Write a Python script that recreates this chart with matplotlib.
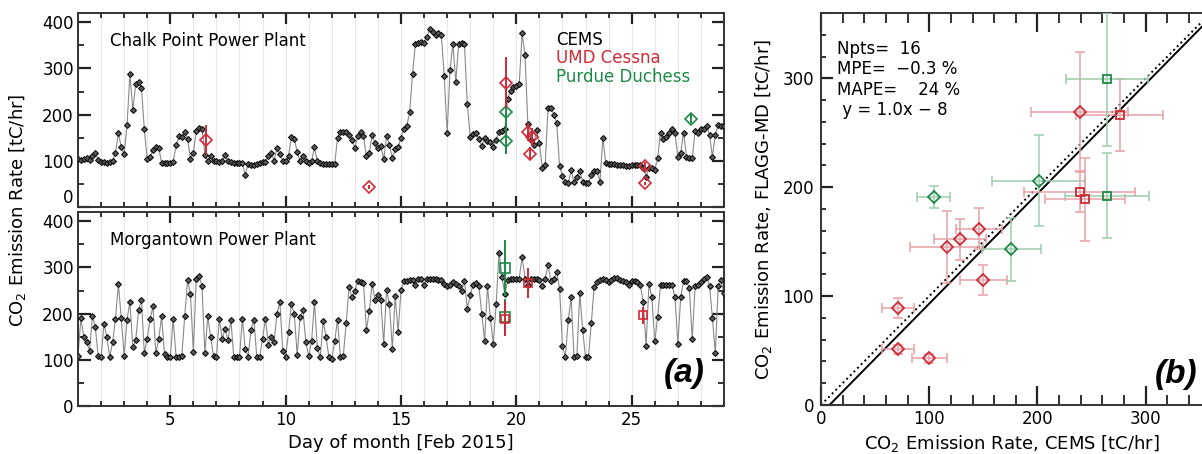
import numpy as np
import matplotlib.pyplot as plt
from matplotlib.ticker import MultipleLocator

# CEMS emission rates [tC/hr], 3-hourly samples (Feb 1 00h .. Feb 29 00h)
chalk_cems = [
    103, 102, 104, 106, 101, 110, 118, 101,   # day 1
    98, 97, 96, 97, 100, 118, 160, 130,
    115, 177, 288, 210, 266, 271, 258, 168,
    103, 108, 124, 130, 128, 96, 96, 96,
    96, 97, 134, 153, 152, 162, 147, 105,     # day 5
    118, 165, 172, 170, 113, 100, 110, 99,
    99, 98, 100, 113, 100, 97, 96, 96,
    96, 95, 69, 94, 90, 92, 94, 95,
    97, 98, 110, 117, 100, 128, 115, 100,
    99, 110, 152, 148, 120, 99, 110, 99,      # day 10
    96, 100, 129, 99, 95, 94, 93, 93,
    93, 93, 150, 163, 163, 163, 155, 146,
    128, 153, 162, 153, 110, 118, 155, 139,
    128, 132, 103, 153, 135, 106, 125, 130,
    150, 170, 175, 205, 288, 354, 356, 357,   # day 15
    356, 369, 385, 378, 372, 376, 372, 283,
    160, 296, 354, 270, 354, 355, 354, 223,
    152, 158, 160, 148, 132, 150, 142, 140,
    131, 146, 162, 164, 168, 234, 252, 259,
    261, 266, 376, 330, 179, 145, 135, 166,   # day 20
    139, 85, 91, 215, 215, 200, 182, 88,
    68, 55, 51, 80, 55, 66, 77, 55,
    51, 51, 69, 77, 77, 55, 150, 95,
    94, 93, 93, 92, 91, 90, 88, 88,
    90, 90, 91, 91, 85, 66, 84, 84,           # day 25
    80, 106, 161, 148, 152, 160, 168, 160,
    109, 117, 161, 109, 106, 106, 165, 160,
    168, 170, 175, 157, 108, 157, 178, 175,
    175,
]

morg_cems = [
    109, 190, 150, 138, 120, 195, 170, 109,   # day 1
    106, 178, 149, 106, 138, 189, 264, 190,
    109, 187, 225, 128, 142, 207, 230, 114,
    146, 188, 216, 114, 146, 194, 112, 106,
    106, 189, 107, 106, 109, 194, 272, 243,   # day 5
    117, 276, 281, 259, 114, 194, 149, 108,
    106, 189, 146, 167, 142, 187, 107, 106,
    106, 189, 124, 107, 165, 187, 106, 106,
    146, 189, 133, 149, 138, 200, 225, 120,
    106, 160, 220, 200, 110, 193, 207, 138,   # day 10
    108, 140, 225, 125, 106, 185, 150, 106,
    102, 140, 187, 106, 109, 180, 258, 235,
    250, 270, 268, 267, 164, 205, 265, 229,
    240, 229, 135, 251, 220, 124, 238, 160,
    251, 270, 271, 272, 272, 262, 276, 276,   # day 15
    262, 276, 274, 274, 275, 273, 272, 265,
    259, 262, 269, 264, 260, 250, 271, 211,
    240, 262, 266, 260, 200, 141, 260, 190,
    135, 220, 332, 280, 243, 272, 276, 276,
    276, 276, 323, 276, 262, 276, 276, 274,   # day 20
    273, 260, 276, 305, 270, 276, 290, 254,
    130, 106, 186, 235, 106, 108, 245, 164,
    106, 106, 180, 258, 268, 272, 276, 272,
    268, 272, 278, 278, 273, 270, 269, 262,
    270, 271, 269, 262, 225, 131, 265, 235,   # day 25
    140, 193, 262, 262, 262, 262, 262, 236,
    135, 235, 271, 271, 255, 145, 260, 262,
    269, 274, 280, 260, 190, 115, 260, 272,
    245,
]

# aircraft estimates (FLAGG-MD) and matching CEMS values
# Chalk Point (diamonds)
cp_red_day = [6.53, 13.6, 19.56, 20.52, 20.6, 20.7, 25.56, 25.56]
cp_red_obs = [145, 43, 269, 162, 115, 152, 89, 51]
cp_red_err = [33, 4, 55, 19, 14, 19, 9, 4]
cp_red_cems = [116, 100, 239, 146, 150, 128, 71, 71]
cp_red_cems_err = [34, 16, 45, 21, 22, 24, 15, 15]

cp_grn_day = [19.56, 19.56, 27.58]
cp_grn_obs = [206, 143, 191]
cp_grn_err = [42, 29, 10]
cp_grn_cems = [201, 176, 104]
cp_grn_cems_err = [43, 27, 15]

# Morgantown (squares)
mg_red_day = [19.5, 20.52, 25.5]
mg_red_obs = [189, 266, 196]
mg_red_err = [38, 33, 19]
mg_red_cems = [244, 276, 239]
mg_red_cems_err = [37, 40, 51]

mg_grn_day = [19.53, 19.53]
mg_grn_obs = [299, 192]
mg_grn_err = [61, 39]
mg_grn_cems = [264, 264]
mg_grn_cems_err = [38, 39]

stats_lines = ['Npts=  16', 'MPE=  \u22120.3 %', 'MAPE=    24 %', ' y = 1.0x \u2212 8']
fit_slope = 1.01
fit_icpt = -8

red = '#cf2a37'
green = '#1d8a48'
red_light = '#e8a0a5'
green_light = '#9ccbac'

t = 1 + np.arange(len(chalk_cems)) / 8.0

fig = plt.figure(figsize=(12.02, 4.54), dpi=100)
ax1 = fig.add_axes([0.0649, 0.544, 0.5374, 0.4273])
ax2 = fig.add_axes([0.0649, 0.1057, 0.5374, 0.4273])
ax3 = fig.add_axes([0.683, 0.108, 0.317, 0.8634])


def style_a(ax):
    ax.set_xlim(1, 29)
    ax.set_ylim(0, 420)
    ax.xaxis.set_major_locator(MultipleLocator(5))
    ax.xaxis.set_minor_locator(MultipleLocator(1))
    ax.set_yticks([0, 100, 200, 300, 400])
    ax.yaxis.set_minor_locator(MultipleLocator(50))
    ax.tick_params(which='both', direction='in', top=True, right=True, labelsize=12, color='#222222')
    ax.tick_params(axis='x', which='major', length=8, width=1.6)
    ax.tick_params(axis='x', which='minor', length=3.8, width=1.3)
    ax.tick_params(axis='y', which='major', length=9, width=1.6, pad=3)
    ax.tick_params(axis='y', which='minor', length=4.5, width=1.3)
    for s in ax.spines.values():
        s.set_linewidth(1.4)
        s.set_color('#333333')
    for d in range(2, 29):
        ax.axvline(d, color='#e8e8e8', lw=0.8, zorder=0)


def plot_cems(ax, vals):
    ax.plot(t, vals, '-', color='#8a8a8a', lw=0.8, zorder=2)
    ax.plot(t, vals, 'D', ms=3.0, mfc='#5a5a5a', mec='#111111', mew=0.8, ls='none', zorder=3)


style_a(ax1)
style_a(ax2)
ax1.tick_params(labelbottom=False)
# lift the "0" of the upper panel so it clears the "400" below
ax1.yaxis.get_major_ticks()[0].label1.set_verticalalignment('bottom')

plot_cems(ax1, chalk_cems)
plot_cems(ax2, morg_cems)

ax1.errorbar(cp_red_day, cp_red_obs, yerr=cp_red_err, fmt='D', ms=6.4, mfc='none', mec=red,
             mew=1.2, ecolor=red, elinewidth=1.4, capsize=0, zorder=5)
ax1.errorbar(cp_grn_day, cp_grn_obs, yerr=cp_grn_err, fmt='D', ms=6.4, mfc='none', mec=green,
             mew=1.2, ecolor=green, elinewidth=1.4, capsize=0, zorder=4)
ax2.errorbar(mg_grn_day, mg_grn_obs, yerr=mg_grn_err, fmt='s', ms=7.2, mfc='none', mec=green,
             mew=1.2, ecolor=green, elinewidth=1.4, capsize=0, zorder=4)
ax2.errorbar(mg_red_day, mg_red_obs, yerr=mg_red_err, fmt='s', ms=6.2, mfc='none', mec=red,
             mew=1.2, ecolor=red, elinewidth=1.4, capsize=0, zorder=5)

ax1.text(0.05, 0.856, 'Chalk Point Power Plant', transform=ax1.transAxes, fontsize=12, va='center')
ax2.text(0.05, 0.856, 'Morgantown Power Plant', transform=ax2.transAxes, fontsize=12, va='center')
ax1.text(0.74, 0.861, 'CEMS', transform=ax1.transAxes, fontsize=12, va='center', color='black')
ax1.text(0.74, 0.768, 'UMD Cessna', transform=ax1.transAxes, fontsize=12, va='center', color=red)
ax1.text(0.74, 0.670, 'Purdue Duchess', transform=ax1.transAxes, fontsize=12, va='center', color=green)
ax2.text(0.97, 0.17, '(a)', transform=ax2.transAxes, fontsize=24, fontweight='bold', fontstyle='italic',
         family='Liberation Sans', ha='right', va='center')
ax2.set_xlabel('Day of month [Feb 2015]', fontsize=13, labelpad=4)
fig.text(18 / 1202, 1 - 210 / 454, 'CO$_2$ Emission Rate [tC/hr]', rotation=90, fontsize=13,
         ha='center', va='center')

# panel (b)
ax3.set_xlim(0, 352)
ax3.set_ylim(0, 360)
ax3.xaxis.set_major_locator(MultipleLocator(100))
ax3.xaxis.set_minor_locator(MultipleLocator(20))
ax3.yaxis.set_major_locator(MultipleLocator(100))
ax3.yaxis.set_minor_locator(MultipleLocator(20))
ax3.tick_params(which='both', direction='in', top=True, right=False, labelsize=12, color='#222222')
ax3.tick_params(axis='x', which='major', length=13.5, width=1.6)
ax3.tick_params(axis='x', which='minor', length=7, width=1.3)
ax3.tick_params(axis='y', which='major', length=8.5, width=1.6, pad=5)
ax3.tick_params(axis='y', which='minor', length=3.8, width=1.3)
ax3.spines['right'].set_visible(False)
for s in ['left', 'top', 'bottom']:
    ax3.spines[s].set_linewidth(1.4)
    ax3.spines[s].set_color('#333333')

xs = np.array([0, 360])
ax3.plot(xs, xs, ':', color='black', lw=1.4, zorder=2)
ax3.plot(xs, fit_slope * xs + fit_icpt, '-', color='black', lw=1.4, zorder=2)

for cx, cxe, oy, oye, mk, ms, c, cl in [
    (cp_red_cems, cp_red_cems_err, cp_red_obs, cp_red_err, 'D', 6.0, red, red_light),
    (cp_grn_cems, cp_grn_cems_err, cp_grn_obs, cp_grn_err, 'D', 6.0, green, green_light),
    (mg_red_cems, mg_red_cems_err, mg_red_obs, mg_red_err, 's', 6.0, red, red_light),
    (mg_grn_cems, mg_grn_cems_err, mg_grn_obs, mg_grn_err, 's', 6.0, green, green_light),
]:
    ax3.errorbar(cx, oy, xerr=cxe, yerr=oye, fmt='none', ecolor=cl, elinewidth=1.1,
                 capsize=3.5, capthick=1.1, zorder=3)
    ax3.plot(cx, oy, mk, ms=ms, mfc='none', mec=c, mew=1.3, ls='none', zorder=4)

for i, s in enumerate(stats_lines):
    ax3.text(0.041, 0.908 - i * 0.052, s, transform=ax3.transAxes, fontsize=12, va='center')

ax3.text(0.987, 0.077, '(b)', transform=ax3.transAxes, fontsize=24, fontweight='bold', fontstyle='italic',
         family='Liberation Sans', ha='right', va='center')
ax3.set_xlabel('CO$_2$ Emission Rate, CEMS [tC/hr]', fontsize=13, labelpad=4)
ax3.set_ylabel('CO$_2$ Emission Rate, FLAGG-MD [tC/hr]', fontsize=13, labelpad=6)

fig.savefig('out.png', dpi=100)
